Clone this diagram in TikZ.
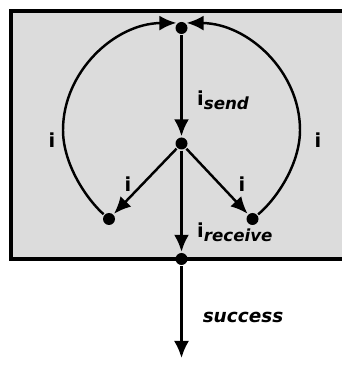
\documentclass[tikz,border=0pt]{standalone}
\usepackage{fontspec}
\setmainfont{DejaVu Sans}
\usepackage{tikz}
\usetikzlibrary{
    calc,
    arrows.meta
}
\definecolor{boxgray}{HTML}{DCDCDC}
\tikzset{
    dot/.style={circle,fill=black,inner sep=0pt,minimum size=2.4mm},
    lbl/.style={font=\fontsize{11}{13}\selectfont\bfseries,inner sep=0pt},
    arr/.style={-{Latex[length=3.4mm,width=3mm]}}
}
\newcommand{\sub}[1]{\raisebox{-0.35ex}{\fontsize{9.5}{11}\selectfont\bfseries\itshape #1}}

\begin{document}
\begin{tikzpicture}[scale=1,line width=1.4pt]
\useasboundingbox (0,0) rectangle (6.84,7.30);
%\draw [help lines](0,0) grid (7,7);
\draw [line width=2pt,fill=boxgray] (0.22,2.12) rectangle (7.20,7.08);
\node [dot] (T) at (3.63,6.74) {};
\node [dot] (M) at (3.63,4.43) {};
\node [dot] (L) at (2.18,2.92) {};
\node [dot] (R) at (5.05,2.92) {};
\node [dot] (B) at (3.63,2.12) {};
\coordinate (E) at (3.63,0.14);
\draw [arr] (T) -- (M);
\draw [arr] (M) -- (L);
\draw [arr] (M) -- (R);
\draw [arr] (M) -- (B);
\draw [arr] (B) -- (E);
\draw [arr] (L) .. controls (1.75,3.30) and (1.26,4.00) .. (1.26,4.70)
    .. controls (1.26,5.87) and (2.30,6.83) .. (T.north west);
\draw [arr] (R) .. controls (5.51,3.30) and (6.00,4.00) .. (6.00,4.70)
    .. controls (6.00,5.87) and (4.96,6.83) .. (T.north east);
\node [lbl,anchor=west] (send) at (3.92,5.30) {i\sub{send}};
\node [lbl,anchor=west] (receive) at (3.92,2.66) {i\sub{receive}};
\node [lbl] (iL) at (1.04,4.50) {i};
\node [lbl] (iR) at (6.36,4.50) {i};
\node [lbl] (iML) at (2.56,3.62) {i};
\node [lbl] (iMR) at (4.84,3.62) {i};
\node [lbl,font=\fontsize{10.5}{12}\selectfont\bfseries\itshape] (succ) at (4.86,0.96) {success};
\end{tikzpicture}
\end{document}
